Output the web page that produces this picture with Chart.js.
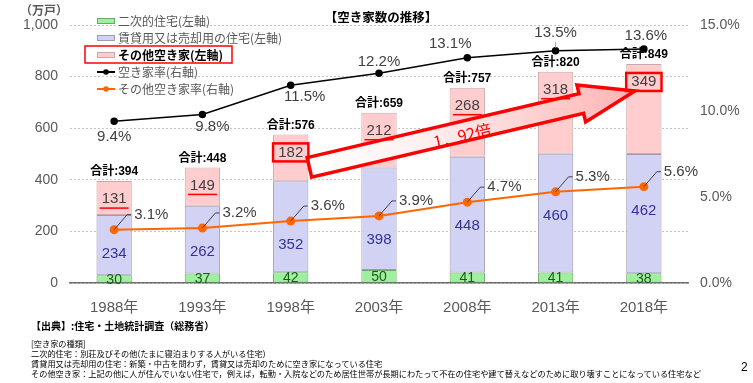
<!DOCTYPE html>
<html>
<head>
<meta charset="utf-8">
<script src="https://cdn.jsdelivr.net/npm/chart.js@4/dist/chart.umd.min.js"></script>
<style>
  html, body { margin: 0; padding: 0; background: #fff; }
  #wrap { position: relative; width: 753px; height: 383px; overflow: hidden; }
  canvas { position: absolute; left: 0; top: 0; }
  .note { position: absolute; left: 31px; font-family: 'Noto Sans CJK JP', sans-serif; color: #000; white-space: nowrap; }
</style>
</head>
<body>
<div id="wrap">
  <canvas id="c" width="753" height="383"></canvas>
  <div class="note" style="top:318px;font-size:10px;font-weight:bold;">【出典】:住宅・土地統計調査（総務省）</div>
  <div class="note" style="top:337px;font-size:8.2px;">[空き家の種類]</div>
  <div class="note" style="top:347px;font-size:8.2px;">二次的住宅：別荘及びその他(たまに寝泊まりする人がいる住宅)</div>
  <div class="note" style="top:357px;font-size:8.2px;">賃貸用又は売却用の住宅：新築・中古を問わず，賃貸又は売却のために空き家になっている住宅</div>
  <div class="note" style="top:367px;font-size:8.2px;">その他空き家：上記の他に人が住んでいない住宅で，例えば，転勤・入院などのため居住世帯が長期にわたって不在の住宅や建て替えなどのために取り壊すことになっている住宅など</div>
  <div class="note" style="left:741px;top:360px;font-size:12px;font-family:'Liberation Sans',sans-serif;">2</div>
</div>
<script>
/* Vacant houses chart: stacked bars (left axis, 万戸) + two rate lines (right axis, %). */
const years = ['1988年', '1993年', '1998年', '2003年', '2008年', '2013年', '2018年'];
const secondHomes = [30, 37, 42, 50, 41, 41, 38];
const rentalSale = [234, 262, 352, 398, 448, 460, 462];
const otherVacant = [131, 149, 182, 212, 268, 318, 349];
const totals = [394, 448, 576, 659, 757, 820, 849];
const vacancyRate = [9.4, 9.8, 11.5, 12.2, 13.1, 13.5, 13.6];
const otherRate = [3.1, 3.2, 3.6, 3.9, 4.7, 5.3, 5.6];
const legendLabels = ['二次的住宅(左軸)', '賃貸用又は売却用の住宅(左軸)', 'その他空き家(左軸)', '空き家率(右軸)', 'その他空き家率(右軸)'];
const ratio = '1．92倍';

// layout only: which "other" values are boxed, and where the vacancy-rate labels sit
const boxed = [2, 6];
const rateLabelOff = [[0, 16], [10, 12], [14, 12], [0, -11], [-17, -14], [0, -18], [2, -13]];

const COL = {
  green: '#9ef09e', greenB: '#6aa86a',
  blue: '#d2d2f4', blueB: '#9c9cb4',
  pink: '#ffcdcd', pinkB: '#c9a9a9',
  black: '#000000', orange: '#ff6600',
  tick: '#595959', text: '#404040', red: '#ff0000',
};
const FONT = "'Liberation Sans', 'Noto Sans CJK JP', sans-serif";
const CJK = "'Noto Sans CJK JP', sans-serif";

Chart.defaults.font.family = FONT;
Chart.defaults.color = COL.tick;

function drawArrow(ctx, x0, y0, x1, y1) {
  const dx = x1 - x0, dy = y1 - y0, len = Math.hypot(dx, dy);
  const ux = dx / len, uy = dy / len, nx = -uy, ny = ux;
  const sw = 10, hw = 19, hl = 55;
  const pt = (a, n) => [x0 + ux * a + nx * n, y0 + uy * a + ny * n];
  const pts = [pt(0, -sw), pt(len - hl, -sw), pt(len - hl, -hw), pt(len, 0), pt(len - hl, hw), pt(len - hl, sw), pt(0, sw)];
  const grad = ctx.createLinearGradient(x0, y0, x1, y1);
  grad.addColorStop(0, '#ffffff');
  grad.addColorStop(0.35, '#fff0f0');
  grad.addColorStop(1, '#ffb4b4');
  ctx.save();
  ctx.beginPath();
  pts.forEach((p, i) => i ? ctx.lineTo(p[0], p[1]) : ctx.moveTo(p[0], p[1]));
  ctx.closePath();
  ctx.fillStyle = grad; ctx.fill();
  ctx.strokeStyle = COL.red; ctx.lineWidth = 3.5; ctx.lineJoin = 'miter'; ctx.stroke();
  // ratio text along the shaft
  const [tx, ty] = pt(156, 4);
  ctx.translate(tx, ty);
  ctx.rotate(Math.atan2(dy, dx));
  ctx.fillStyle = COL.red; ctx.font = '16px ' + CJK;
  ctx.textAlign = 'center'; ctx.textBaseline = 'middle';
  ctx.fillText(ratio, 0, 0);
  ctx.restore();
}

const labelPlugin = {
  id: 'labels',
  afterDatasetsDraw(chart) {
    const { ctx } = chart;
    const g = chart.getDatasetMeta(0).data, b = chart.getDatasetMeta(1).data, p = chart.getDatasetMeta(2).data;
    const blk = chart.getDatasetMeta(3).data, org = chart.getDatasetMeta(4).data;
    ctx.save();
    ctx.textAlign = 'center'; ctx.textBaseline = 'middle';

    // pink label positions (near the top of the segment)
    const pinkY = p.map(el => el.y + 18);

    // big arrow from the 1998 box to the 2018 box
    drawArrow(ctx, p[2].x + p[2].width / 2 + 1, pinkY[2] + 15, p[6].x - 9, pinkY[6] + 9);

    years.forEach((_, i) => {
      // green segment values
      ctx.font = '14px ' + FONT; ctx.fillStyle = '#1d5a1d';
      ctx.fillText(secondHomes[i], g[i].x, (g[i].y + g[i].base) / 2 + 1);
      // rental/sale values sit just under the orange point
      ctx.font = '15px ' + FONT; ctx.fillStyle = '#33339a';
      ctx.fillText(rentalSale[i], b[i].x, org[i].y + 24);
      // other vacant values
      ctx.fillStyle = COL.text;
      ctx.fillText(otherVacant[i], p[i].x, pinkY[i]);
      const w = ctx.measureText(String(otherVacant[i])).width;
      ctx.strokeStyle = COL.red;
      if (boxed.includes(i)) {
        ctx.lineWidth = 2.5;
        ctx.strokeRect(p[i].x - p[i].width / 2, pinkY[i] - 9, p[i].width, 18);
      } else {
        ctx.lineWidth = 1.5;
        ctx.beginPath(); ctx.moveTo(p[i].x - w / 2 - 2, pinkY[i] + 9); ctx.lineTo(p[i].x + w / 2 + 2, pinkY[i] + 9); ctx.stroke();
      }
      // totals
      ctx.font = 'bold 12px ' + FONT; ctx.fillStyle = '#000';
      ctx.fillText('合計:' + totals[i], p[i].x, p[i].y - 9);

      // other vacancy rate labels with leader
      const ox = org[i].x, oy = org[i].y;
      ctx.strokeStyle = '#404040'; ctx.lineWidth = 1;
      ctx.beginPath(); ctx.moveTo(ox, oy); ctx.lineTo(ox + 13, oy - 15); ctx.lineTo(ox + 17, oy - 15); ctx.stroke();
      ctx.font = '15px ' + FONT; ctx.fillStyle = COL.text; ctx.textAlign = 'left';
      ctx.fillText(otherRate[i].toFixed(1) + '%', ox + 20, oy - 15);
      ctx.textAlign = 'center';

      // vacancy rate labels
      const [dx, dy] = rateLabelOff[i];
      ctx.fillText(vacancyRate[i].toFixed(1) + '%', blk[i].x + dx, blk[i].y + dy);
      if (i === 5) {
        ctx.strokeStyle = '#a0a0a0';
        ctx.beginPath(); ctx.moveTo(blk[i].x, blk[i].y - 9); ctx.lineTo(blk[i].x, blk[i].y - 3); ctx.stroke();
      }
    });
    ctx.restore();
  },
};

const decorPlugin = {
  id: 'decor',
  afterDraw(chart) {
    const { ctx } = chart;
    ctx.save();
    ctx.textBaseline = 'middle';
    // unit + title
    ctx.fillStyle = COL.tick; ctx.font = 'bold 12px ' + CJK; ctx.textAlign = 'left';
    ctx.fillText('（万戸）', 20, 10);
    ctx.fillStyle = '#000'; ctx.font = 'bold 12.5px ' + CJK; ctx.textAlign = 'center';
    ctx.fillText('【空き家数の推移】', 381, 17);
    // legend
    const x = 97, ys = [21, 38, 55, 72, 89];
    const ds = chart.data.datasets;
    ctx.textAlign = 'left';
    legendLabels.forEach((t, i) => {
      const y = ys[i], d = ds[i];
      if (d.type === 'line') {
        ctx.strokeStyle = d.borderColor; ctx.lineWidth = 2;
        ctx.beginPath(); ctx.moveTo(x, y); ctx.lineTo(x + 18, y); ctx.stroke();
        ctx.fillStyle = d.borderColor;
        ctx.beginPath(); ctx.arc(x + 9, y, 2.8, 0, Math.PI * 2); ctx.fill();
      } else {
        ctx.fillStyle = d.backgroundColor; ctx.fillRect(x, y - 3, 18, 6);
        ctx.strokeStyle = d.borderColor; ctx.lineWidth = 1; ctx.strokeRect(x + 0.5, y - 2.5, 17, 5);
      }
      ctx.fillStyle = i === 2 ? '#000' : COL.tick;
      ctx.font = (i === 2 ? 'bold ' : '') + '12px ' + CJK;
      ctx.fillText(t, x + 21, y);
    });
    ctx.strokeStyle = COL.red; ctx.lineWidth = 1.5;
    ctx.strokeRect(85, 46, 147, 17);
    ctx.restore();
  },
};

new Chart(document.getElementById('c'), {
  data: {
    labels: years,
    datasets: [
      { type: 'bar', label: legendLabels[0], data: secondHomes, backgroundColor: COL.green, borderColor: COL.greenB, borderWidth: 1, borderSkipped: false, stack: 's', order: 2 },
      { type: 'bar', label: legendLabels[1], data: rentalSale, backgroundColor: COL.blue, borderColor: COL.blueB, borderWidth: 1, borderSkipped: false, stack: 's', order: 2 },
      { type: 'bar', label: legendLabels[2], data: otherVacant, backgroundColor: COL.pink, borderColor: COL.pinkB, borderWidth: 1, borderSkipped: false, stack: 's', order: 2 },
      { type: 'line', label: legendLabels[3], data: vacancyRate, yAxisID: 'y1', borderColor: COL.black, backgroundColor: COL.black, borderWidth: 1.5, pointRadius: 3, pointBackgroundColor: COL.black, tension: 0, order: 1 },
      { type: 'line', label: legendLabels[4], data: otherRate, yAxisID: 'y1', borderColor: COL.orange, backgroundColor: COL.orange, borderWidth: 2, pointRadius: 3.5, pointBackgroundColor: COL.orange, tension: 0, order: 0 },
    ],
  },
  options: {
    responsive: false, animation: false, devicePixelRatio: 1,
    layout: { padding: { top: 25, left: 0, right: 0, bottom: 0 } },
    categoryPercentage: 1, barPercentage: 0.4,
    plugins: { legend: { display: false }, tooltip: { enabled: false } },
    scales: {
      x: {
        stacked: true,
        grid: { display: false },
        border: { display: true, color: '#6e6e6e', width: 1.5 },
        ticks: { color: COL.tick, font: { size: 15 }, padding: 8 },
        afterFit: s => { s.height = 100; },
      },
      y: {
        stacked: true, min: 0, max: 1000,
        grid: { color: '#c4c4c4', drawTicks: false },
        border: { display: false, dash: [2, 2] },
        ticks: { stepSize: 200, color: COL.tick, font: { size: 14 }, padding: 12 },
        afterFit: s => { s.width = 70; },
      },
      y1: {
        position: 'right', min: 0, max: 15,
        grid: { display: false, drawTicks: false },
        border: { display: false },
        ticks: { stepSize: 5, color: COL.tick, font: { size: 14 }, padding: 12, callback: v => v.toFixed(1) + '%' },
        afterFit: s => { s.width = 65; },
      },
    },
  },
  plugins: [labelPlugin, decorPlugin],
});
</script>
</body>
</html>
